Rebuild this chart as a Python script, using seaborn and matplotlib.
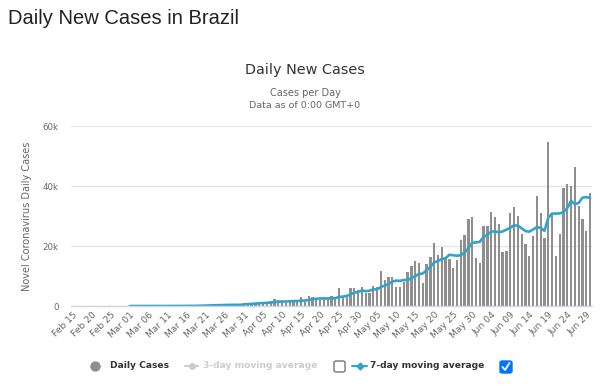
import pandas as pd
import numpy as np
import seaborn as sns
import matplotlib.pyplot as plt
from matplotlib.lines import Line2D
from matplotlib.patches import FancyBboxPatch

# Daily new cases in Brazil, Feb 15 - Jun 30 2020 (None = nothing reported yet)
feb_cases = [None] * 9 + [0, 0, 1, 0, 0, 1]
mar_cases = [0, 0, 0, 1, 4, 5, 6, 5, 2, 6, 18, 25, 21, 23, 79, 34, 57, 137, 193, 283,
             224, 418, 345, 310, 232, 482, 502, 487, 352, 323, 1138]
apr_cases = [1119, 1074, 1146, 1222, 852, 926, 1661, 2210, 1930, 1781, 1089, 1442, 1261, 1832,
             3058, 2105, 3257, 2976, 2300, 2000, 2200, 2600, 3300, 2800, 5900, 3100, 3600,
             6100, 6100, 5300]
may_cases = [6200, 4200, 4200, 6700, 6200, 11600, 8700, 9800, 9800, 6400, 6200, 8100, 11200,
             13300, 14900, 14500, 7600, 13900, 16200, 20900, 17000, 19600, 16400, 15600, 12600,
             15300, 22000, 23700, 29000, 29600, 15900]
jun_cases = [14200, 26800, 26800, 31200, 29600, 27300, 18100, 18400, 30900, 32900, 30000, 23900,
             20600, 16800, 23300, 36700, 31100, 22800, 54700, 30300, 16600, 23900, 39500, 40600,
             40000, 46400, 33500, 29000, 25000, 37600]

y_ticks = [0, 20000, 40000, 60000]
y_tick_labels = ["0", "20k", "40k", "60k"]

dates = pd.date_range("2020-02-15", "2020-06-30", freq="D")
df = pd.DataFrame({"date": dates,
                   "cases": pd.Series(feb_cases + mar_cases + apr_cases + may_cases + jun_cases,
                                      dtype="float")})
df["idx"] = np.arange(len(df))
df["avg7"] = df["cases"].rolling(7).mean()
df["bars"] = df["cases"].fillna(0)

sns.set_style("white")
plt.rcParams["font.family"] = ["DejaVu Sans"]

BAR = "#8f8f8f"
LINE = "#33a3cc"
GREY = "#666666"

fig = plt.figure(figsize=(6, 3.86), dpi=100)
ax = fig.add_axes([71 / 600, 80 / 386, 521 / 600, 180 / 386])

sns.barplot(data=df, x="idx", y="bars", native_scale=True, color=BAR, width=0.6,
            errorbar=None, saturation=1, linewidth=0, ax=ax)
sns.lineplot(data=df, x="idx", y="avg7", color=LINE, linewidth=1.9, ax=ax)

ax.set_xlim(-0.5, len(df) - 0.5)
ax.set_ylim(0, 60000)
ax.set_xlabel("")
ax.set_ylabel("")
ax.set_yticks(y_ticks)
ax.set_yticklabels(y_tick_labels)
ax.set_xticks(df["idx"][::5])
ax.set_xticklabels(df["date"][::5].dt.strftime("%b %d"), rotation=45, ha="right",
                   rotation_mode="anchor")
ax.tick_params(axis="x", length=0, pad=3, labelsize=6.6, labelcolor=GREY)
ax.tick_params(axis="y", length=0, pad=9, labelsize=6.2, labelcolor=GREY)
ax.set_axisbelow(True)
ax.grid(axis="y", color="#e6e6e6", linewidth=1)
ax.grid(axis="x", visible=False)
for s in ["top", "right", "left"]:
    ax.spines[s].set_visible(False)
ax.spines["bottom"].set_color("#ccd6eb")
ax.spines["bottom"].set_linewidth(1)

# titles
fig.text(8 / 600, 1 - 18 / 386, "Daily New Cases in Brazil", family="Liberation Sans",
         fontsize=14.5, color="#222222", va="center", ha="left")
fig.text(305 / 600, 1 - 70 / 386, "Daily New Cases", fontsize=10.4, color="#333333",
         ha="center", va="center")
fig.text(305 / 600, 1 - 93 / 386, "Cases per Day", fontsize=7, color=GREY,
         ha="center", va="center")
fig.text(305 / 600, 1 - 105 / 386, "Data as of 0:00 GMT+0", fontsize=6.8, color=GREY,
         ha="center", va="center")
fig.text(27 / 600, 1 - 216 / 386, "Novel Coronavirus Daily Cases", fontsize=7, color=GREY,
         rotation=90, ha="center", va="center")

# legend row
ly = 1 - 366 / 386
def px(x):
    return x / 600

fig.add_artist(Line2D([px(95)], [ly], marker="o", markersize=6.5, color=BAR, linestyle=""))
fig.text(px(110), ly, "Daily Cases", fontsize=6.6, fontweight="bold", color="#333333",
         va="center")
fig.add_artist(Line2D([px(185), px(198)], [ly, ly], color="#cccccc", linewidth=1.5))
fig.add_artist(Line2D([px(191.5)], [ly], marker="o", markersize=4, color="#cccccc", linestyle=""))
fig.text(px(203), ly, "3-day moving average", fontsize=6.6, fontweight="bold",
         color="#cccccc", va="center")
fig.add_artist(FancyBboxPatch((px(334), 1 - 372 / 386), px(11), 11 / 386,
                              boxstyle="round,pad=0,rounding_size=0.004",
                              facecolor="white", edgecolor="#767676", linewidth=1))
fig.add_artist(Line2D([px(352), px(367)], [ly, ly], color=LINE, linewidth=1.5))
fig.add_artist(Line2D([px(359.5)], [ly], marker="D", markersize=3.5, color=LINE, linestyle=""))
fig.text(px(370), ly, "7-day moving average", fontsize=6.6, fontweight="bold",
         color="#333333", va="center")
fig.add_artist(FancyBboxPatch((px(500), 1 - 373 / 386), px(12), 12 / 386,
                              boxstyle="round,pad=0,rounding_size=0.004",
                              facecolor="#0075ff", edgecolor="#0075ff", linewidth=1))
fig.add_artist(Line2D([px(502.5), px(505), px(509.5)],
                      [1 - 367 / 386, 1 - 370 / 386, 1 - 363 / 386],
                      color="white", linewidth=1.3))

fig.savefig("out.png", dpi=100)
